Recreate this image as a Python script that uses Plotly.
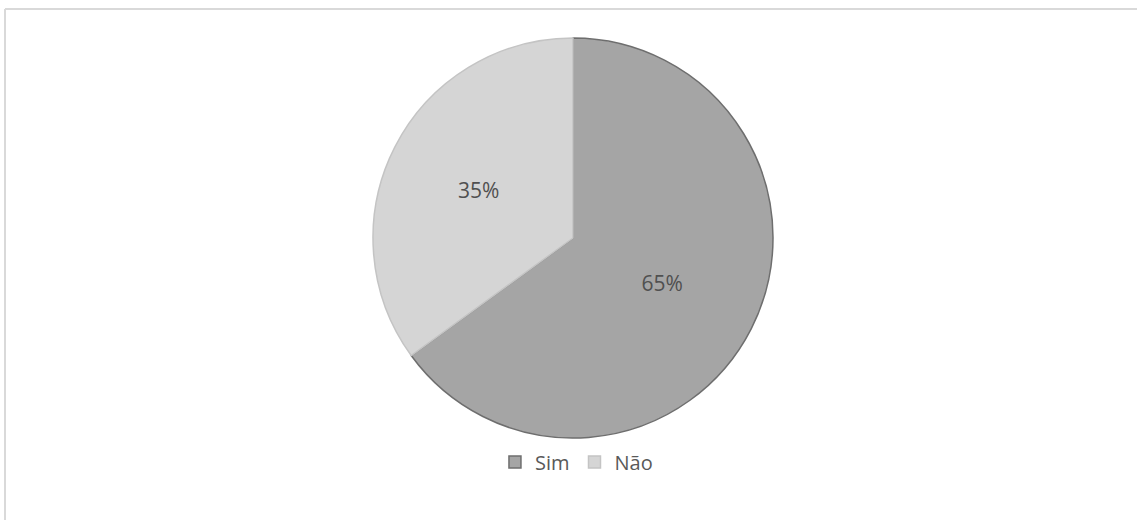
import plotly.graph_objects as go

labels = ["Sim", "Não"]
values = [65, 35]
fill_colors = ["#a5a5a5", "#d5d5d5"]
line_colors = ["#6e6e6e", "#c4c4c4"]

W, H = 1137, 520
cx, cy, r = 573, 238, 200

fig = go.Figure(go.Pie(
    labels=labels,
    values=values,
    sort=False,
    direction="clockwise",
    rotation=0,
    marker=dict(colors=fill_colors, line=dict(color=line_colors, width=1.5)),
    textinfo="percent",
    texttemplate="%{percent:.0%}",
    textposition="inside",
    insidetextorientation="horizontal",
    textfont=dict(family="Open Sans", size=21, color="#505050"),
    hoverinfo="label+percent",
    domain=dict(x=[(cx - r) / W, (cx + r) / W], y=[(H - cy - r) / H, (H - cy + r) / H]),
))

fig.update_layout(
    width=W, height=H,
    margin=dict(l=0, r=0, t=0, b=0),
    paper_bgcolor="white",
    showlegend=True,
    legend=dict(
        orientation="h",
        x=0.507, xanchor="center",
        y=(H - 462) / H, yanchor="middle",
        font=dict(family="Open Sans", size=20, color="#595959"),
        itemwidth=30,
        traceorder="normal",
    ),
    shapes=[
        dict(type="line", xref="paper", yref="paper", x0=5 / W, x1=1.0, y0=(H - 9) / H, y1=(H - 9) / H,
             line=dict(color="#d9d9d9", width=2)),
        dict(type="line", xref="paper", yref="paper", x0=5 / W, x1=5 / W, y0=0, y1=(H - 9) / H,
             line=dict(color="#d9d9d9", width=2)),
    ],
)

fig.write_html("out.html", config={"displayModeBar": False},
               post_script="document.body.style.margin='0';document.body.style.padding='0';")
